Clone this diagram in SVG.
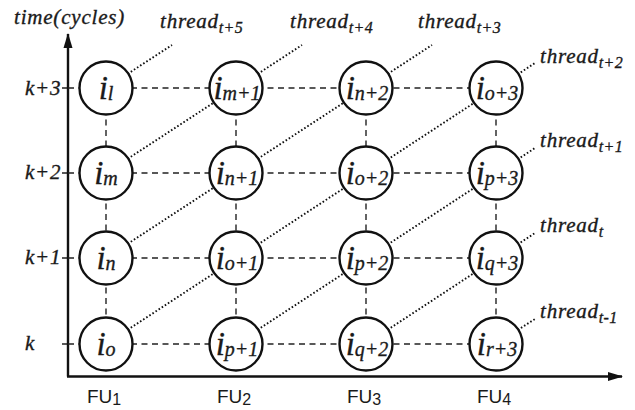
<svg xmlns="http://www.w3.org/2000/svg" width="635" height="410" viewBox="0 0 635 410">
  <style>
    .axis { stroke: #111; stroke-width: 2.4; fill: none; }
    .tick { stroke: #111; stroke-width: 1.4; }
    .grid { stroke: #222; stroke-width: 1.4; stroke-dasharray: 6 4.5; fill: none; }
    .thread { stroke: #111; stroke-width: 1.9; stroke-dasharray: 1.6 2.1; fill: none; }
    .node circle { fill: #fff; stroke: #111; stroke-width: 2.4; }
    text.it { font-family: 'Liberation Serif', 'DejaVu Serif', serif; font-style: italic; fill: #1a1a1a; stroke: #1a1a1a; stroke-width: 0.35px; }
    .lbl { font-size: 21px; letter-spacing: 0.8px; }
    .lsub { font-size: 16px; letter-spacing: 0.3px; }
    .nl { font-size: 33px; text-anchor: middle; }
    .nsub { font-size: 20px; }
    text.fu { font-family: 'Liberation Sans', Arial, sans-serif; font-size: 19px; fill: #1a1a1a; text-anchor: middle; }
    .fusub { font-size: 16px; }
  </style>
  <defs>
    <marker id="arrow" viewBox="0 0 15 10" refX="14" refY="5" markerWidth="15" markerHeight="10" markerUnits="userSpaceOnUse" orient="auto">
      <path d="M0,0.5 L15,5 L0,9.5 Z" fill="#111"/>
    </marker>
  </defs>

  <!-- axes -->
  <g id="axes">
    <line class="axis" x1="68" y1="376.5" x2="68" y2="34" marker-end="url(#arrow)"/>
    <line class="axis" x1="67" y1="376.5" x2="622" y2="376.5" marker-end="url(#arrow)"/>
    <line class="tick" x1="62" y1="88" x2="68" y2="88"/>
    <line class="tick" x1="62" y1="173" x2="68" y2="173"/>
    <line class="tick" x1="62" y1="258" x2="68" y2="258"/>
    <line class="tick" x1="62" y1="344" x2="68" y2="344"/>
  </g>

  <!-- axis labels -->
  <g id="axis-labels">
    <text class="it lbl" x="14" y="24">time(cycles)</text>
    <text class="it lbl" x="25" y="95">k+3</text>
    <text class="it lbl" x="25" y="179">k+2</text>
    <text class="it lbl" x="25" y="264">k+1</text>
    <text class="it lbl" x="25" y="350">k</text>
  </g>
  <g id="fu-labels">
    <text class="fu" x="104" y="403">FU<tspan class="fusub" dy="2">1</tspan></text>
    <text class="fu" x="234" y="403">FU<tspan class="fusub" dy="2">2</tspan></text>
    <text class="fu" x="364" y="403">FU<tspan class="fusub" dy="2">3</tspan></text>
    <text class="fu" x="494" y="403">FU<tspan class="fusub" dy="2">4</tspan></text>
  </g>

  <!-- connectors: grid (dashed) and threads (dotted) -->
  <g id="connectors">
    <!-- rows -->
    <line class="grid" x1="68" y1="88" x2="496" y2="88"/>
    <line class="grid" x1="68" y1="173" x2="496" y2="173"/>
    <line class="grid" x1="68" y1="258" x2="496" y2="258"/>
    <line class="grid" x1="68" y1="344" x2="496" y2="344"/>
    <!-- columns -->
    <line class="grid" x1="106" y1="88" x2="106" y2="344"/>
    <line class="grid" x1="236" y1="88" x2="236" y2="344"/>
    <line class="grid" x1="366" y1="88" x2="366" y2="344"/>
    <line class="grid" x1="496" y1="88" x2="496" y2="344"/>
    <!-- threads -->
    <line class="thread" x1="106" y1="88" x2="172" y2="45"/>
    <line class="thread" x1="106" y1="173" x2="302" y2="45"/>
    <line class="thread" x1="106" y1="258" x2="432" y2="45"/>
    <line class="thread" x1="106" y1="344" x2="535" y2="63"/>
    <line class="thread" x1="236" y1="344" x2="535" y2="148"/>
    <line class="thread" x1="366" y1="344" x2="535" y2="233"/>
    <line class="thread" x1="496" y1="344" x2="535" y2="319"/>
  </g>

  <!-- thread labels -->
  <g id="thread-labels">
    <text class="it lbl" x="160" y="28">thread<tspan class="lsub" dy="5">t+5</tspan></text>
    <text class="it lbl" x="290" y="28">thread<tspan class="lsub" dy="5">t+4</tspan></text>
    <text class="it lbl" x="418" y="28">thread<tspan class="lsub" dy="5">t+3</tspan></text>
    <text class="it lbl" x="540" y="63">thread<tspan class="lsub" dy="5">t+2</tspan></text>
    <text class="it lbl" x="540" y="147">thread<tspan class="lsub" dy="5">t+1</tspan></text>
    <text class="it lbl" x="540" y="232">thread<tspan class="lsub" dy="5">t</tspan></text>
    <text class="it lbl" x="540" y="318">thread<tspan class="lsub" dy="5">t-1</tspan></text>
  </g>

  <!-- nodes -->
  <g id="nodes">
    <!-- FU1 column -->
    <g id="n-l" class="node"><circle cx="106" cy="88" r="26.5"/><text class="it nl" x="106" y="99">i<tspan class="nsub" dy="1">l</tspan></text></g>
    <g id="n-m" class="node"><circle cx="106" cy="173" r="26.5"/><text class="it nl" x="106" y="184">i<tspan class="nsub" dy="1">m</tspan></text></g>
    <g id="n-n" class="node"><circle cx="106" cy="258" r="26.5"/><text class="it nl" x="106" y="269">i<tspan class="nsub" dy="1">n</tspan></text></g>
    <g id="n-o" class="node"><circle cx="106" cy="344" r="26.5"/><text class="it nl" x="106" y="355">i<tspan class="nsub" dy="1">o</tspan></text></g>

    <!-- FU2 column -->
    <g id="n-m1" class="node"><circle cx="236" cy="88" r="26.5"/><text class="it nl" x="237" y="99">i<tspan class="nsub" dy="1">m+1</tspan></text></g>
    <g id="n-n1" class="node"><circle cx="236" cy="173" r="26.5"/><text class="it nl" x="237" y="184">i<tspan class="nsub" dy="1">n+1</tspan></text></g>
    <g id="n-o1" class="node"><circle cx="236" cy="258" r="26.5"/><text class="it nl" x="237" y="269">i<tspan class="nsub" dy="1">o+1</tspan></text></g>
    <g id="n-p1" class="node"><circle cx="236" cy="344" r="26.5"/><text class="it nl" x="237" y="355">i<tspan class="nsub" dy="1">p+1</tspan></text></g>

    <!-- FU3 column -->
    <g id="n-n2" class="node"><circle cx="366" cy="88" r="26.5"/><text class="it nl" x="367" y="99">i<tspan class="nsub" dy="1">n+2</tspan></text></g>
    <g id="n-o2" class="node"><circle cx="366" cy="173" r="26.5"/><text class="it nl" x="367" y="184">i<tspan class="nsub" dy="1">o+2</tspan></text></g>
    <g id="n-p2" class="node"><circle cx="366" cy="258" r="26.5"/><text class="it nl" x="367" y="269">i<tspan class="nsub" dy="1">p+2</tspan></text></g>
    <g id="n-q2" class="node"><circle cx="366" cy="344" r="26.5"/><text class="it nl" x="367" y="355">i<tspan class="nsub" dy="1">q+2</tspan></text></g>

    <!-- FU4 column -->
    <g id="n-o3" class="node"><circle cx="496" cy="88" r="26.5"/><text class="it nl" x="497" y="99">i<tspan class="nsub" dy="1">o+3</tspan></text></g>
    <g id="n-p3" class="node"><circle cx="496" cy="173" r="26.5"/><text class="it nl" x="497" y="184">i<tspan class="nsub" dy="1">p+3</tspan></text></g>
    <g id="n-q3" class="node"><circle cx="496" cy="258" r="26.5"/><text class="it nl" x="497" y="269">i<tspan class="nsub" dy="1">q+3</tspan></text></g>
    <g id="n-r3" class="node"><circle cx="496" cy="344" r="26.5"/><text class="it nl" x="497" y="355">i<tspan class="nsub" dy="1">r+3</tspan></text></g>
  </g>
</svg>
